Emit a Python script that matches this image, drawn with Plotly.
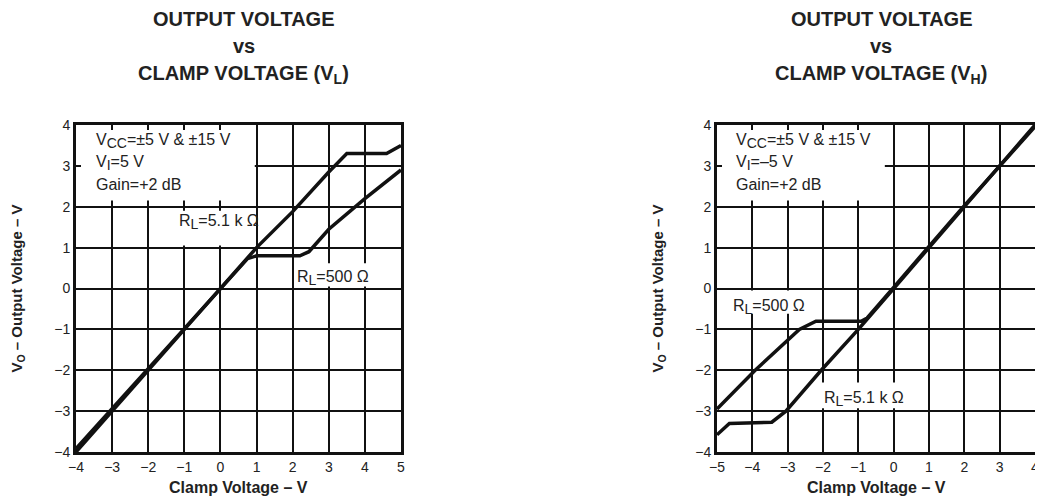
import plotly.graph_objects as go

# --- data ---
# left chart: output voltage vs clamp voltage V_L
vl_clamp_5k1 = [-4, -1, 0, 1, 2, 3, 3.5, 4.6, 5]
vl_out_5k1 = [-4, -1, 0, 1, 1.88, 2.85, 3.3, 3.3, 3.5]
vl_clamp_500 = [-4, -2, 0, 0.75, 1.0, 2.2, 2.45, 3, 4, 5]
vl_out_500 = [-3.92, -1.95, 0.02, 0.73, 0.8, 0.8, 0.9, 1.45, 2.2, 2.9]

# right chart: output voltage vs clamp voltage V_H
vh_clamp_5k1 = [-5, -4.65, -3.45, -3.05, -2.05, -1, 0, 4]
vh_out_5k1 = [-3.58, -3.3, -3.27, -3.0, -2.0, -1, 0, 4]
vh_clamp_500 = [-5, -3.92, -2.67, -2.2, -0.92, -0.75, 0, 2, 4]
vh_out_500 = [-2.95, -2.0, -1.0, -0.8, -0.8, -0.72, 0.03, 2.03, 3.96]

y_ticks = [-4, -3, -2, -1, 0, 1, 2, 3, 4]
vl_ticks = [-4, -3, -2, -1, 0, 1, 2, 3, 4, 5]
vh_ticks = [-5, -4, -3, -2, -1, 0, 1, 2, 3, 4]

FONT = "Liberation Sans, Arial, sans-serif"
INK = "#111111"
OFF = 8  # page body margin, the figure starts 8px in
W, H = 1043 - OFF, 504 - OFF

# plot boxes in page pixels (left, right), common top/bottom
left_px = (76, 401)
right_px = (717, 1035)
top_px, bot_px = 125, 452


def fx(px):
    return (px - OFF) / W


def fy(py):
    return 1 - (py - OFF) / H


ydom = [fy(bot_px), fy(top_px)]

fig = go.Figure()

line = dict(color=INK, width=3.5)
fig.add_trace(go.Scatter(x=vl_clamp_5k1, y=vl_out_5k1, mode="lines", line=line,
                         xaxis="x", yaxis="y", showlegend=False))
fig.add_trace(go.Scatter(x=vl_clamp_500, y=vl_out_500, mode="lines", line=line,
                         xaxis="x", yaxis="y", showlegend=False))
fig.add_trace(go.Scatter(x=vh_clamp_5k1, y=vh_out_5k1, mode="lines", line=line,
                         xaxis="x2", yaxis="y2", showlegend=False))
fig.add_trace(go.Scatter(x=vh_clamp_500, y=vh_out_500, mode="lines", line=line,
                         xaxis="x2", yaxis="y2", showlegend=False))

axis_common = dict(
    showgrid=True, gridcolor=INK, gridwidth=2,
    zeroline=False, automargin=False,
    showline=True, linecolor=INK, linewidth=3, mirror="ticks",
    ticks="inside", ticklen=5, tickwidth=2, tickcolor=INK,
    tickfont=dict(family=FONT, size=14, color="#222"),
    ticklabeloverflow="allow",
    fixedrange=True,
)

fig.update_layout(
    width=W, height=H,
    margin=dict(l=0, r=0, t=0, b=0),
    paper_bgcolor="white", plot_bgcolor="white",
    xaxis=dict(axis_common, domain=[fx(left_px[0]), fx(left_px[1])],
               range=[-4, 5], tickvals=vl_ticks, anchor="y"),
    yaxis=dict(axis_common, domain=ydom, range=[-4, 4],
               tickvals=y_ticks, anchor="x"),
    xaxis2=dict(axis_common, domain=[fx(right_px[0]), fx(right_px[1])],
                range=[-5, 4], tickvals=vh_ticks, anchor="y2"),
    yaxis2=dict(axis_common, domain=ydom, range=[-4, 4],
                tickvals=y_ticks, anchor="x2"),
)

# white patches that hide the grid behind the labels
def blank(xr, yr, x0, x1, y0, y1):
    fig.add_shape(type="rect", xref=xr, yref=yr, x0=x0, x1=x1, y0=y0, y1=y1,
                  fillcolor="white", line=dict(width=0), layer="between")


blank("x", "y", -4, 0.95, 2.15, 4)
blank("x", "y", -1.3, 0.97, 1.05, 1.9)
blank("x", "y", 2.05, 4.25, 0.05, 0.62)
blank("x2", "y2", -5, -0.25, 2.15, 4)
blank("x2", "y2", -4.6, -2.45, -0.62, -0.05)
blank("x2", "y2", -2.05, 0.4, -2.93, -2.3)


def sub(s):
    return f"<sub><span style='font-size:14px'>{s}</span></sub>"


def note(xr, yr, x, y, text, anchor="left", size=16):
    fig.add_annotation(xref=xr, yref=yr, x=x, y=y, text=text, showarrow=False,
                       xanchor=anchor, yanchor="middle",
                       font=dict(family=FONT, size=size, color="#222"))


# condition text
note("x", "y", -3.5, 3.6, f"V{sub('CC')}=±5 V & ±15 V")
note("x", "y", -3.5, 3.07, f"V{sub('I')}=5 V")
note("x", "y", -3.5, 2.55, "Gain=+2 dB")
note("x2", "y2", -4.53, 3.6, f"V{sub('CC')}=±5 V & ±15 V")
note("x2", "y2", -4.53, 3.07, f"V{sub('I')}=–5 V")
note("x2", "y2", -4.53, 2.55, "Gain=+2 dB")

# curve labels
note("x", "y", -0.05, 1.62, f"R{sub('L')}=5.1 k Ω", anchor="center")
note("x", "y", 3.13, 0.25, f"R{sub('L')}=500 Ω", anchor="center")
note("x2", "y2", -3.53, -0.45, f"R{sub('L')}=500 Ω", anchor="center")
note("x2", "y2", -0.83, -2.71, f"R{sub('L')}=5.1 k Ω", anchor="center")

# titles
for px, s in [(left_px, "L"), (right_px, "H")]:
    cx = fx((px[0] + px[1]) / 2 + 5)
    for ypx, txt in [(19, "OUTPUT VOLTAGE"), (46, "vs"),
                     (75, f"CLAMP VOLTAGE (V<sub>{s}</sub>)")]:
        fig.add_annotation(xref="paper", yref="paper", x=cx, y=fy(ypx),
                           text=f"<b>{txt}</b>", showarrow=False,
                           xanchor="center", yanchor="middle", borderpad=0,
                           font=dict(family=FONT, size=20, color="#222"))
    # axis titles
    fig.add_annotation(xref="paper", yref="paper", x=fx((px[0] + px[1]) / 2),
                       y=fy(487), text="<b>Clamp Voltage – V</b>",
                       showarrow=False, xanchor="center", yanchor="middle",
                       font=dict(family=FONT, size=16, color="#222"))
    fig.add_annotation(xref="paper", yref="paper", x=fx(px[0] - 59),
                       y=fy((top_px + bot_px) / 2),
                       text="<b>V<sub>O</sub> – Output Voltage – V</b>",
                       textangle=-90, showarrow=False,
                       xanchor="center", yanchor="middle",
                       font=dict(family=FONT, size=15, color="#222"))

fig.write_html("out.html")
